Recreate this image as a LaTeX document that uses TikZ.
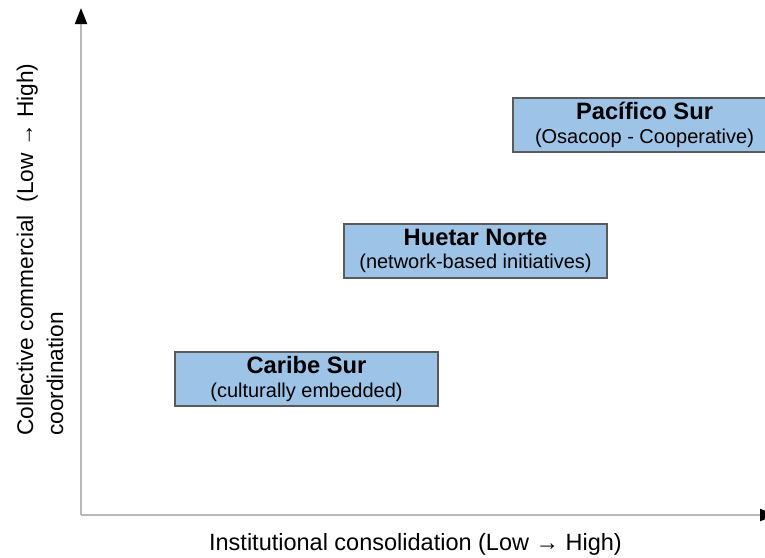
\documentclass[tikz,border=0pt]{standalone}
\usepackage{fontspec}
\setmainfont{Liberation Sans}
\usetikzlibrary{arrows.meta}
\definecolor{boxfill}{RGB}{157,195,230}
\definecolor{boxline}{RGB}{90,90,90}
\definecolor{axisgray}{RGB}{185,185,185}
\tikzset{
  axisline/.style={draw=axisgray, line width=2pt,
    -{Triangle[length=16pt,width=12pt,color=black,fill=black]}},
  regionbox/.style={draw=boxline, fill=boxfill, line width=1.2pt,
    minimum width=263pt, minimum height=54pt, inner sep=0pt,
    align=center, text=black, font=\fontsize{20}{23.5}\selectfont},
  axislabel/.style={font=\fontsize{23.5}{28}\selectfont, text=black, inner sep=0pt},
  ylabel/.style={font=\fontsize{22.7}{28}\selectfont, text=black, inner sep=0pt},
}
\newcommand{\boxtitle}[1]{{\fontsize{23.7}{23.5}\selectfont\bfseries #1}}
\newcommand{\boxsub}[1]{{\fontsize{20}{23.5}\selectfont #1}}
\begin{document}
\begin{tikzpicture}[x=1pt,y=-1pt]
\useasboundingbox (0,0) rectangle (765,557);
\coordinate (origin) at (81,515);
\coordinate (ytop) at (81,8);
\coordinate (xend) at (776,515);
\draw[axisline] (origin) -- (ytop);
\draw[axisline] (origin) -- (xend);

\node[regionbox] (pacifico) at (644.5,125) {\boxtitle{Pacífico Sur}\\\boxsub{(Osacoop - Cooperative)}};
\node[regionbox] (huetar) at (475.5,251) {\boxtitle{Huetar Norte}\\\boxsub{(network-based initiatives)}};
\node[regionbox] (caribe) at (306.5,379) {\boxtitle{Caribe Sur}\\\boxsub{(culturally embedded)}};

\node[axislabel, anchor=base] (xlab) at (415.5,550) {Institutional consolidation (Low → High)};
\node[ylabel, anchor=base west, rotate=90] (ylabA) at (33,436) {Collective commercial \ (Low → High)};
\node[ylabel, anchor=base west, rotate=90] (ylabB) at (63,436) {coordination};
\end{tikzpicture}
\end{document}
